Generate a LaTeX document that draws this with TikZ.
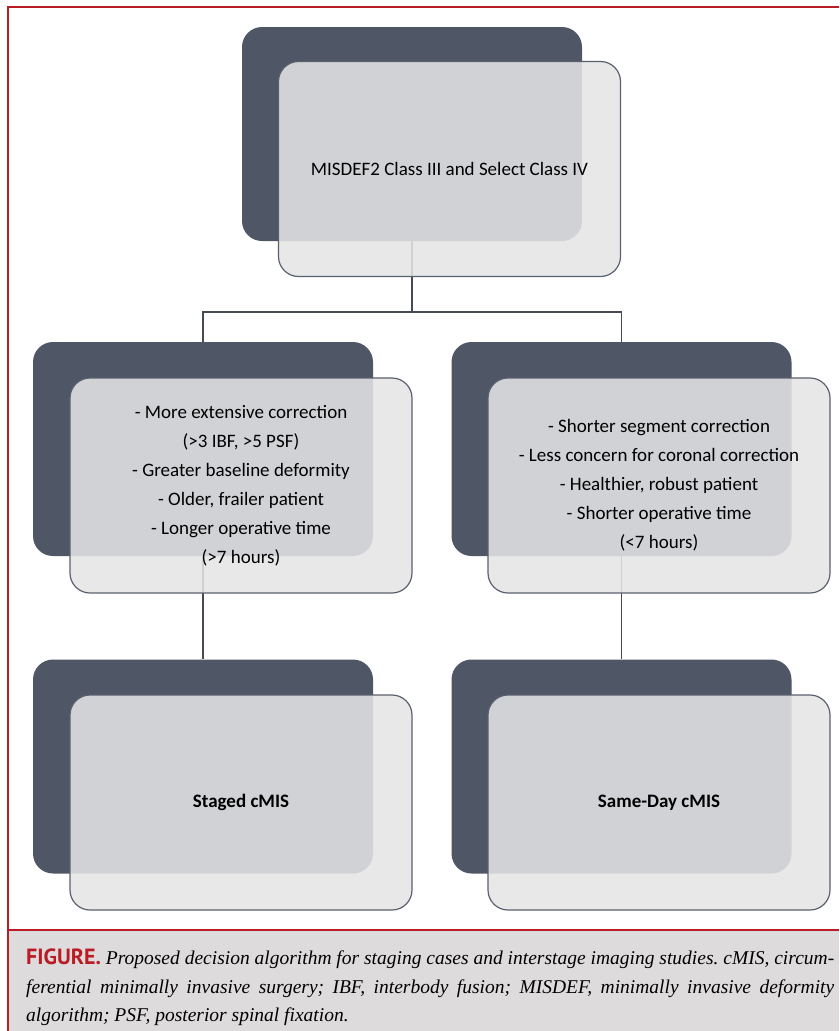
\documentclass[tikz,border=0pt]{standalone}
\usepackage{fontspec}
\setmainfont{Carlito}
\newfontfamily\capserif{Liberation Serif}
\newfontfamily\capsans{PT Sans}
\usetikzlibrary{backgrounds}
\definecolor{darkbox}{RGB}{79,86,102}
\definecolor{lightbox}{RGB}{229,229,230}
\definecolor{boxline}{RGB}{90,96,110}
\definecolor{connline}{RGB}{70,74,84}
\definecolor{framered}{RGB}{185,28,36}
\definecolor{capbg}{RGB}{221,219,220}
\begin{document}
\begin{tikzpicture}[x=1pt,y=-1pt,
  backbox/.style={draw=none, fill=darkbox, rounded corners=20pt, minimum width=340pt, minimum height=214pt, inner sep=0pt},
  frontbox/.style={draw=boxline, line width=1.2pt, fill=lightbox, fill opacity=0.87, text opacity=1, rounded corners=20pt, minimum width=342pt, minimum height=215pt, inner sep=0pt, align=center, font=\fontsize{19}{29}\selectfont},
  conn/.style={draw=connline, line width=1.2pt},
  redline/.style={draw=framered, line width=2pt}]
\useasboundingbox (0,0) rectangle (839,1031);
% frame and caption background
\fill[capbg] (8.5,931) rectangle (839,1031);
\draw[redline] (839,6.5) -- (7.5,6.5) -- (7.5,1031);
\draw[redline] (7.5,930) -- (839,930);
% top pair
\node[backbox] (topD) at (412,134) {};
\node[frontbox] (topL) at (449.5,169) {MISDEF2 Class III and Select Class IV};
% middle pairs
\node[backbox] (midLD) at (203,449) {};
\node[frontbox] (midLL) at (241,485.5) {- More extensive correction\\(>3 IBF, >5 PSF)\\- Greater baseline deformity\\- Older, frailer patient\\- Longer operative time\\(>7 hours)};
\node[backbox] (midRD) at (621.5,449) {};
\node[frontbox] (midRL) at (659,485.5) {- Shorter segment correction\\- Less concern for coronal correction\\- Healthier, robust patient\\- Shorter operative time\\(<7 hours)};
% bottom pairs
\node[backbox] (botLD) at (203,766.5) {};
\node[frontbox, font=\bfseries\fontsize{19}{29}\selectfont] (botLL) at (241,802.5) {Staged cMIS};
\node[backbox] (botRD) at (621.5,766.5) {};
\node[frontbox, font=\bfseries\fontsize{19}{29}\selectfont] (botRL) at (659,802.5) {Same-Day cMIS};
% connectors
\coordinate (branch) at (412,312);
\begin{scope}[on background layer]
\draw[conn] (topD.south) -- (branch);
\draw[conn] (midLD.north) |- (branch) -| (midRD.north);
\draw[conn] (midLD.south) -- (botLD.north);
\draw[conn] (midRD.south) -- (botRD.north);
\end{scope}
% caption
\node[anchor=north west, inner sep=0pt, text width=808pt, align=justify,
      font=\frenchspacing\capserif\itshape\fontsize{19.5}{28.5}\selectfont] (cap) at (26,949)
 {{\capsans\bfseries\upshape\color{framered}\fontsize{22}{28.5}\selectfont FIGURE.} Proposed decision algorithm for staging cases and interstage imaging studies. cMIS, circum-\linebreak ferential minimally invasive surgery; IBF, interbody fusion; MISDEF, minimally invasive deformity\linebreak algorithm; PSF, posterior spinal fixation.};
\end{tikzpicture}
\end{document}
